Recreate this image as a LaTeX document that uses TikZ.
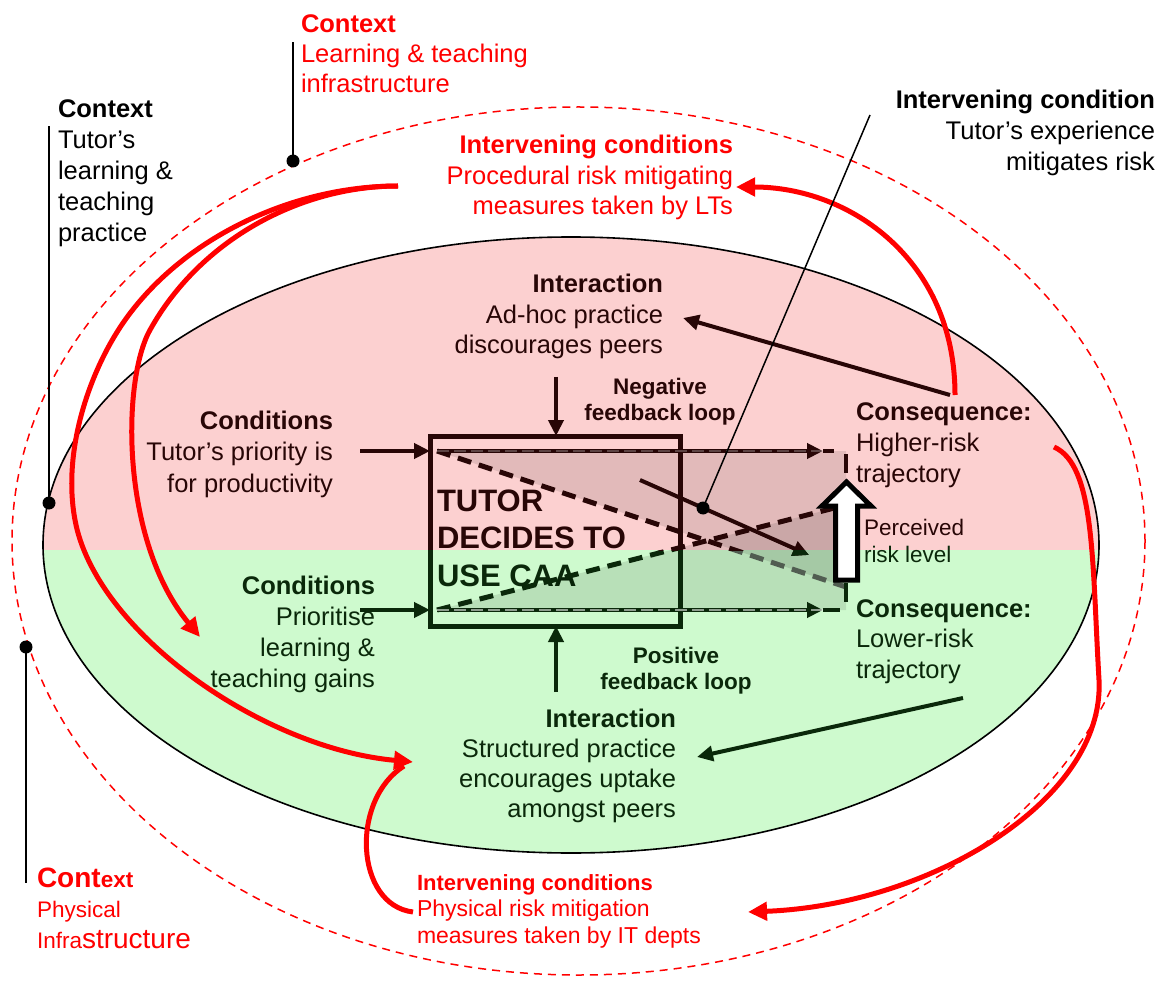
\documentclass[tikz,border=0pt]{standalone}
\usepackage{fontspec}
\setmainfont{Liberation Sans}
\usetikzlibrary{arrows.meta}
\definecolor{dred}{RGB}{40,6,6}
\definecolor{dgreen}{RGB}{10,40,10}
\definecolor{pinkfill}{RGB}{252,208,208}
\definecolor{greenfill}{RGB}{206,250,206}
\newcommand\fsz[2]{\fontsize{#1}{#2}\selectfont}
\begin{document}
\begin{tikzpicture}[x=1pt,y=-1pt,
  lbl/.style={inner sep=0pt, outer sep=0pt},
  darr/.style={draw=dred, line width=4pt, -{Triangle[length=16pt,width=15pt]}},
  garr/.style={draw=dgreen, line width=4pt, -{Triangle[length=16pt,width=15pt]}},
  rarr/.style={draw=red, line width=5pt, -{Triangle[length=19pt,width=18pt]}},
  rline/.style={draw=red, line width=5pt},
  leader/.style={draw=black, line width=1.5pt},
  blob/.style={circle, fill=black, inner sep=0pt, minimum size=13pt},
  dashd/.style={line width=5pt, dash pattern=on 14pt off 8pt},
  shade/.style={fill=black, fill opacity=0.10},
]
\useasboundingbox (0,0) rectangle (1167,981);
\fill[white] (0,0) rectangle (1167,981);

% ---------- inner ellipse fills ----------
\begin{scope}
  \clip (571,545) ellipse [x radius=528, y radius=308];
  \fill[pinkfill] (0,0) rectangle (1167,550);
  \fill[greenfill] (0,550) rectangle (1167,981);
\end{scope}

% ---------- coordinates ----------
\coordinate (hU0) at (437,451);
\coordinate (hU1) at (846,451);
\coordinate (hUa) at (823,451);
\coordinate (hUe) at (834,451);
\coordinate (hL0) at (437,610);
\coordinate (hL1) at (846,610);
\coordinate (hLa) at (823,610);
\coordinate (hLe) at (840,610);
\coordinate (dD1) at (846,587);
\coordinate (dR1) at (846,505);
\coordinate (sA0) at (640,480);
\coordinate (sA1) at (809,555);
\coordinate (cU) at (360,451);
\coordinate (cL) at (360,610);
\coordinate (dTop) at (556,377);
\coordinate (uBot) at (556,692);
\coordinate (cqU) at (950,395);
\coordinate (ahoc) at (683,318);
\coordinate (cqL) at (963,698);
\coordinate (strc) at (697,757);
\coordinate (cqU2) at (955,395);
\coordinate (ivLTarr) at (736,187);
\coordinate (rs) at (398,186);
\coordinate (inArr) at (200,637);
\coordinate (strArr) at (413,762);
\coordinate (ivITs) at (413,912);
\coordinate (ivITm) at (404,766);
\coordinate (cqR) at (1054,447);
\coordinate (ivITarr) at (748,912);
\coordinate (ldT) at (293,42);
\coordinate (ldL) at (49,126);
\coordinate (ldB) at (26,883);
\coordinate (ivLead) at (870,115);

% ---------- central text (under dashes) ----------
\node[lbl, anchor=north west, align=left, text=dred, font=\fsz{31}{37.5}\bfseries] (tutor) at (437,485)
  {\strut TUTOR\\DECIDES TO\\\textcolor{dgreen}{USE CAA}};

% ---------- shaded triangles ----------
\fill[shade] (hU0) -- (hU1) -- (dD1) -- cycle;
\fill[shade] (hL0) -- (hL1) -- (dR1) -- cycle;

% ---------- dashed diagonals ----------
\begin{scope}
  \clip (0,550) rectangle (1167,981);
  \draw[dashd, gray!60!dgreen] (hU0) -- (dD1);
  \draw[dashd, dgreen] (hL0) -- (dR1);
\end{scope}
\begin{scope}
  \clip (0,0) rectangle (1167,550);
  \draw[dashd, dred] (hU0) -- (dD1);
  \draw[dashd, dred] (hL0) -- (dR1);
\end{scope}

% ---------- box ----------
\node[lbl, draw=dred, line width=5pt, minimum width=250pt, minimum height=190pt] (box) at (555,531) {};
\begin{scope}
  \clip (0,550) rectangle (1167,981);
  \draw[dgreen, line width=5pt] (box.north west) rectangle (box.south east);
\end{scope}

% ---------- horizontal trajectories ----------
\draw[dred, line width=4.5pt, -{Triangle[length=16pt,width=15pt]}] (hU0) -- (hUa);
\draw[dred, line width=4.5pt] (hUa) -- (hUe);
\draw[white, opacity=0.25, line width=1.5pt, dash pattern=on 12pt off 5pt] (hU0) -- (hUa);
\draw[dgreen, line width=4.5pt, -{Triangle[length=16pt,width=15pt]}] (hL0) -- (hLa);
\draw[dgreen, line width=4.5pt] (hLa) -- (hLe);
\draw[white, opacity=0.55, line width=1.5pt, dash pattern=on 12pt off 5pt] (hL0) -- (hLa);

% ---------- solid diagonal arrow ----------
\draw[dred, line width=4pt, -{Triangle[length=16pt,width=15pt]}] (sA0) -- (sA1);
\begin{scope}
  \clip (0,550) rectangle (1167,981);
  \draw[dgreen, line width=4pt, -{Triangle[length=16pt,width=15pt]}] (sA0) -- (sA1);
\end{scope}

% ---------- perceived risk arrow ----------
\draw[dred, line width=4pt] (846,454) -- (846,473);
\draw[dgreen, line width=4pt] (846,583) -- (846,602);
\draw[black, line width=5pt, fill=white, line join=miter]
  (835.5,580) -- (835.5,506) -- (822,506) -- (846.5,482) -- (871,506) -- (857.5,506) -- (857.5,580) -- cycle;

% ---------- arrows into box ----------
\draw[darr] (cU) -- (cU -| box.west);
\draw[garr] (cL) -- (cL -| box.west);
\draw[darr] (dTop) -- (dTop |- box.north);
\draw[garr] (uBot) -- (uBot |- box.south);

% ---------- consequence arrows ----------
\draw[darr] (cqU) -- (ahoc);
\draw[garr] (cqL) -- (strc);

% ---------- ellipses ----------
\draw[black, line width=1.6pt] (571,545) ellipse [x radius=528, y radius=308];
\draw[red, line width=1.5pt, dash pattern=on 8pt off 6pt] (578.5,541) ellipse [x radius=566.5, y radius=434];

% ---------- red curves ----------
\draw[rarr] (cqU2) .. controls (955,260) and (850,187) .. (ivLTarr);
\draw[rarr] (rs) .. controls (300,186) and (200,240) .. (150,330) .. controls (122,380) and (120,540) .. (inArr);
\draw[rarr] (rs) .. controls (290,186) and (180,240) .. (123,323) .. controls (90,371) and (62,450) .. (75,520) .. controls (95,630) and (260,748) .. (strArr);
\draw[rline] (ivITs) .. controls (355,905) and (350,800) .. (ivITm);
\draw[rarr] (cqR) .. controls (1095,465) and (1092,560) .. (1099,680) .. controls (1105,800) and (930,905) .. (ivITarr);

% ---------- dots and leaders ----------
\node[blob] (dotT) at (293,161) {};
\node[blob] (dotL) at (49,503) {};
\node[blob] (dotB) at (26,647) {};
\node[blob] (dotI) at (703,508) {};
\draw[leader] (dotT.center) -- (ldT);
\draw[leader] (dotL.center) -- (ldL);
\draw[leader] (dotB.center) -- (ldB);
\draw[leader] (dotI.center) -- (ivLead);

% ---------- labels ----------
\node[lbl, anchor=north west, align=left, text=red, font=\fsz{25.5}{30}] (ctxLT) at (301,12)
  {\strut\textbf{Context}\\Learning \& teaching\\infrastructure};
\node[lbl, anchor=north west, align=left, font=\fsz{25.5}{30.8}] (ctxTP) at (58,96.4)
  {\strut\textbf{Context}\\Tutor’s\\learning \&\\teaching\\practice};
\node[lbl, anchor=north east, align=right, font=\fsz{25.5}{31}] (ivExp) at (1155,87.3)
  {\strut\textbf{Intervening condition}\\Tutor’s experience\\mitigates risk};
\node[lbl, anchor=north east, align=right, text=red, font=\fsz{25.5}{30.5}] (ivLT) at (733,132.65)
  {\strut\textbf{Intervening conditions}\\Procedural risk mitigating\\measures taken by LTs};
\node[lbl, anchor=north east, align=right, text=dred, font=\fsz{25.5}{30.5}] (interU) at (663,271.65)
  {\strut\textbf{Interaction}\\Ad-hoc practice\\discourages peers};
\node[lbl, anchor=north, align=center, text=dred, font=\fsz{22.5}{26}\bfseries] (negL) at (660,376.8)
  {\strut Negative\\feedback loop};
\node[lbl, anchor=north east, align=right, text=dred, font=\fsz{25.5}{31.5}] (condU) at (333,406.95)
  {\strut\textbf{Conditions}\\Tutor’s priority is\\for productivity};
\node[lbl, anchor=north west, align=left, text=dred, font=\fsz{25.5}{31}] (cqHigh) at (856,398.3)
  {\strut\textbf{Consequence:}\\Higher-risk\\trajectory};
\node[lbl, anchor=north west, align=left, font=\fsz{22.5}{27}] (perc) at (864,516.1)
  {\strut\textcolor{dred}{Perceived}\\\textcolor{dgreen}{risk level}};
\node[lbl, anchor=north east, align=right, text=dgreen, font=\fsz{25.5}{30.7}] (condL) at (375,573.5)
  {\strut\textbf{Conditions}\\Prioritise\\learning \&\\teaching gains};
\node[lbl, anchor=north west, align=left, text=dgreen, font=\fsz{25.5}{30.5}] (cqLow) at (856,595.65)
  {\strut\textbf{Consequence:}\\Lower-risk\\trajectory};
\node[lbl, anchor=north, align=center, text=dgreen, font=\fsz{22.5}{26}\bfseries] (posL) at (676,644.8)
  {\strut Positive\\feedback loop};
\begin{scope}
  \clip (0,0) rectangle (1167,822);
  \node[lbl, anchor=north east, align=right, text=dgreen, font=\fsz{25.5}{30.3}] (interL) at (676,705.8)
    {\strut\textbf{Interaction}\\Structured practice\\encourages uptake\\amongst peers};
\end{scope}
\node[lbl, anchor=north west, align=left, text=red, font=\fsz{23}{26.5}] (ivIT) at (417,871.45)
  {\strut{\fsz{22}{26.5}\bfseries Intervening conditions}\\Physical risk mitigation\\measures taken by IT depts};
\node[lbl, anchor=north west, align=left, text=red, font=\fsz{22.5}{30.5}] (ctxPI) at (37,865.65)
  {\strut{\fsz{28}{30.5}\bfseries Cont}{\bfseries ext}\\Physical\\Infra{\fsz{28}{30.5}structure}};
\end{tikzpicture}
\end{document}
